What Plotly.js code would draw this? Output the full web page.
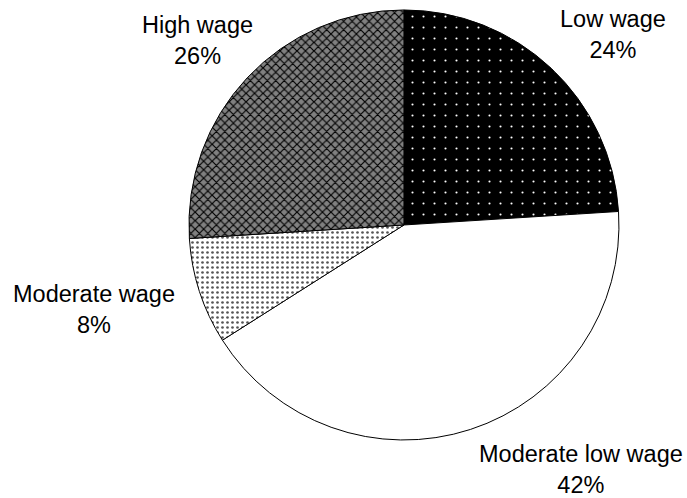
<!DOCTYPE html>
<html>
<head>
<meta charset="utf-8">
<script src="https://cdn.plot.ly/plotly-3.0.1.min.js"></script>
<style>html,body{margin:0;padding:0;background:#fff;}#chart{width:687px;height:498px;}</style>
</head>
<body>
<div id="chart"></div>
<script>
const categories = ["Low wage", "Moderate low wage", "Moderate wage", "High wage"];
const shares = [24, 42, 8, 26];

const patternShapes = [".", "", ".", "x"];
const patternBg = ["#000000", "#ffffff", "#ffffff", "#808080"];
const patternFg = ["#ffffff", "#ffffff", "#555555", "#000000"];
const patternSize = [11, 8, 5, 6];
const patternSolidity = [0.03, 0.1, 0.22, 0.35];

// label anchor positions (paper fractions)
const labelX = [613, 581, 94, 197].map(v => v / 687);
const labelY = [35, 469, 309, 40].map(v => 1 - v / 498);

const trace = {
  type: "pie",
  labels: categories,
  values: shares,
  sort: false,
  direction: "clockwise",
  rotation: 0,
  textinfo: "none",
  hoverinfo: "none",
  showlegend: false,
  marker: {
    colors: patternBg,
    line: {color: "#000", width: 1},
    pattern: {
      shape: patternShapes,
      bgcolor: patternBg,
      fgcolor: patternFg,
      size: patternSize,
      solidity: patternSolidity,
      fillmode: "replace"
    }
  },
  domain: {x: [0.275, 0.901], y: [0.1165, 0.98]}
};

const total = shares.reduce((a, b) => a + b, 0);
const annotations = categories.map((c, i) => ({
  xref: "paper", yref: "paper",
  x: labelX[i], y: labelY[i],
  xanchor: "center", yanchor: "middle",
  showarrow: false,
  align: "center",
  text: c + "<br>" + Math.round(shares[i] / total * 100) + "%",
  font: {family: "Liberation Sans, Arial, sans-serif", size: 23.5, color: "#000"}
}));

const layout = {
  width: 687,
  height: 498,
  margin: {l: 0, r: 0, t: 0, b: 0},
  paper_bgcolor: "#fff",
  plot_bgcolor: "#fff",
  font: {family: "Liberation Sans, Arial, sans-serif", size: 23.5, color: "#000"},
  annotations: annotations
};

Plotly.newPlot("chart", [trace], layout, {displayModeBar: false, staticPlot: true});
</script>
</body>
</html>
